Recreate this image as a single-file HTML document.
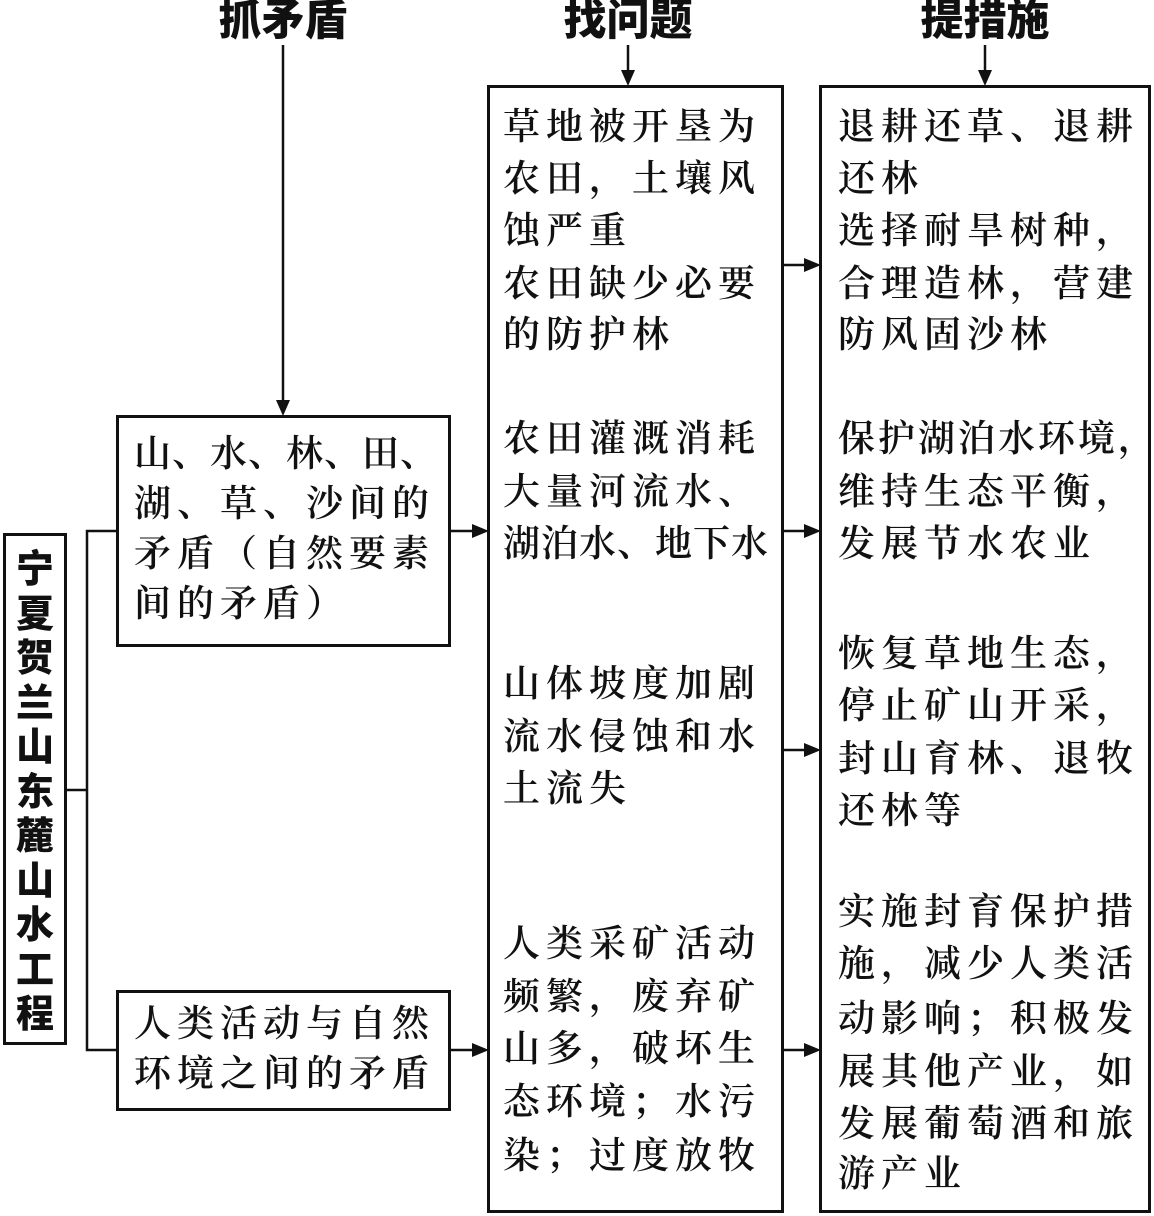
<!DOCTYPE html>
<html><head><meta charset="utf-8">
<style>
body{margin:0;width:1154px;height:1216px;background:#fff;position:relative;overflow:hidden;font-family:"Liberation Serif","Noto Serif CJK SC",serif;color:#111}
.b{position:absolute;border:3px solid #111;box-sizing:border-box}
.t{position:absolute;font-size:37px;line-height:44px;letter-spacing:6px;white-space:nowrap;font-weight:600}
.h{position:absolute;font-family:"Liberation Sans","Noto Sans CJK SC",sans-serif;font-weight:900;font-size:43px;line-height:46px;transform:translateX(-50%)}
</style></head><body>
<svg width="1154" height="1216" style="position:absolute;left:0;top:0">
<g stroke="#111" stroke-width="2.5" fill="none">
<line x1="283" y1="45" x2="283" y2="402"/>
<line x1="628" y1="45" x2="628" y2="72"/>
<line x1="985" y1="45" x2="985" y2="72"/>
<polyline points="66,790 87,790"/>
<polyline points="117,531 87,531 87,1050 117,1050"/>
<line x1="451" y1="531" x2="474" y2="531"/>
<line x1="451" y1="1050" x2="474" y2="1050"/>
<line x1="783" y1="265" x2="806" y2="265"/>
<line x1="783" y1="531" x2="806" y2="531"/>
<line x1="783" y1="750" x2="806" y2="750"/>
<line x1="783" y1="1050" x2="806" y2="1050"/>
</g>
<g fill="#111">
<path d="M276,400 L290,400 L283,416z"/>
<path d="M621,70 L635,70 L628,86z"/>
<path d="M978,70 L992,70 L985,86z"/>
<path d="M472,524 L472,538 L489,531z"/>
<path d="M472,1043 L472,1057 L489,1050z"/>
<path d="M804,258 L804,272 L821,265z"/>
<path d="M804,524 L804,538 L821,531z"/>
<path d="M804,743 L804,757 L821,750z"/>
<path d="M804,1043 L804,1057 L821,1050z"/>
</g>
</svg>
<div class="h" style="left:283px;top:-2px">抓矛盾</div>
<div class="h" style="left:628px;top:-2px">找问题</div>
<div class="h" style="left:985px;top:-2px">提措施</div>

<div class="b" style="left:3px;top:533px;width:64px;height:512px"></div>
<div style="position:absolute;left:3px;top:548px;width:64px;text-align:center;font-family:'Liberation Sans','Noto Sans CJK SC',sans-serif;font-weight:900;font-size:38px;line-height:44.5px">宁<br>夏<br>贺<br>兰<br>山<br>东<br>麓<br>山<br>水<br>工<br>程</div>

<div class="b" style="left:116px;top:415px;width:335px;height:232px"></div>
<div class="t" style="left:134px;top:433px;letter-spacing:1px">山、水、林、田、</div>
<div class="t" style="left:134px;top:483px">湖、草、沙间的</div>
<div class="t" style="left:134px;top:533px">矛盾（自然要素</div>
<div class="t" style="left:134px;top:583px">间的矛盾）</div>

<div class="b" style="left:116px;top:990px;width:335px;height:121px"></div>
<div class="t" style="left:134px;top:1003px">人类活动与自然</div>
<div class="t" style="left:134px;top:1053px">环境之间的矛盾</div>

<div class="b" style="left:487px;top:85px;width:297px;height:1128px"></div>
<div class="t" style="left:503px;top:106px">草地被开垦为</div>
<div class="t" style="left:503px;top:158px">农田，土壤风</div>
<div class="t" style="left:503px;top:210px">蚀严重</div>
<div class="t" style="left:503px;top:263px">农田缺少必要</div>
<div class="t" style="left:503px;top:314px">的防护林</div>
<div class="t" style="left:503px;top:418px">农田灌溉消耗</div>
<div class="t" style="left:503px;top:471px">大量河流水、</div>
<div class="t" style="left:503px;top:523px;letter-spacing:1px">湖泊水、地下水</div>
<div class="t" style="left:503px;top:663px">山体坡度加剧</div>
<div class="t" style="left:503px;top:716px">流水侵蚀和水</div>
<div class="t" style="left:503px;top:768px">土流失</div>
<div class="t" style="left:503px;top:923px">人类采矿活动</div>
<div class="t" style="left:503px;top:976px">频繁，废弃矿</div>
<div class="t" style="left:503px;top:1028px">山多，破坏生</div>
<div class="t" style="left:503px;top:1081px">态环境；水污</div>
<div class="t" style="left:503px;top:1135px">染；过度放牧</div>

<div class="b" style="left:819px;top:85px;width:332px;height:1128px"></div>
<div class="t" style="left:838px;top:106px">退耕还草、退耕</div>
<div class="t" style="left:838px;top:158px">还林</div>
<div class="t" style="left:838px;top:210px">选择耐旱树种，</div>
<div class="t" style="left:838px;top:263px">合理造林，营建</div>
<div class="t" style="left:838px;top:314px">防风固沙林</div>
<div class="t" style="left:838px;top:418px;letter-spacing:3px">保护湖泊水环境，</div>
<div class="t" style="left:838px;top:471px">维持生态平衡，</div>
<div class="t" style="left:838px;top:523px">发展节水农业</div>
<div class="t" style="left:838px;top:633px">恢复草地生态，</div>
<div class="t" style="left:838px;top:685px">停止矿山开采，</div>
<div class="t" style="left:838px;top:738px">封山育林、退牧</div>
<div class="t" style="left:838px;top:790px">还林等</div>
<div class="t" style="left:838px;top:891px">实施封育保护措</div>
<div class="t" style="left:838px;top:943px">施，减少人类活</div>
<div class="t" style="left:838px;top:998px">动影响；积极发</div>
<div class="t" style="left:838px;top:1051px">展其他产业，如</div>
<div class="t" style="left:838px;top:1103px">发展葡萄酒和旅</div>
<div class="t" style="left:838px;top:1153px">游产业</div>
</body></html>
